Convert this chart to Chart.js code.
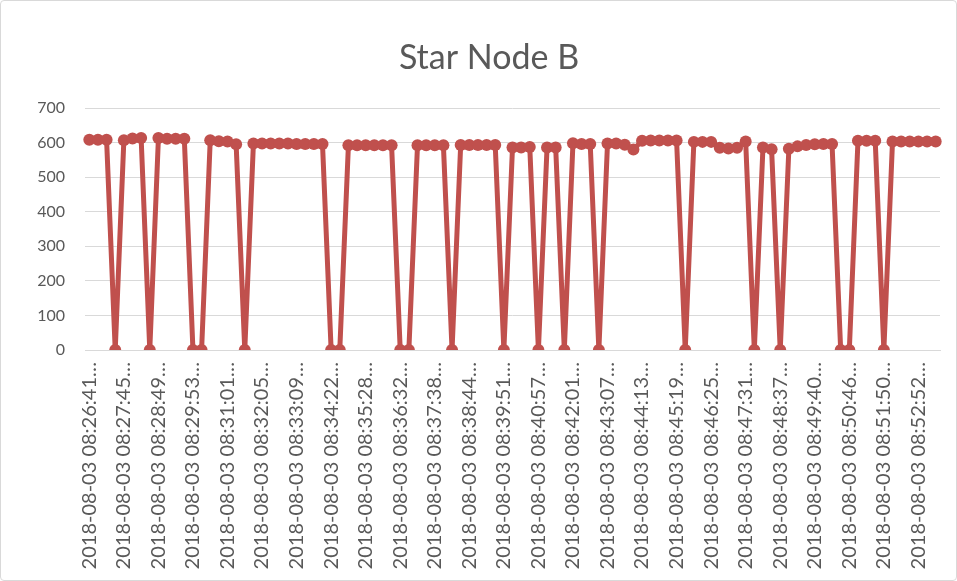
<!DOCTYPE html>
<html>
<head>
<meta charset="utf-8">
<script src="https://cdn.jsdelivr.net/npm/chart.js@4"></script>
<style>
  body { margin: 0; background: #fff; }
  .wrap { width: 957px; height: 581px; box-sizing: border-box; border: 1px solid #d9d9d9; border-radius: 4px; }
</style>
</head>
<body>
<div class="wrap"><canvas id="myChart"></canvas></div>
<script>
// TICK LABELS (one every 4 samples)
const tickLabels = [
  "2018-08-03 08:26:41", "2018-08-03 08:27:45", "2018-08-03 08:28:49",
  "2018-08-03 08:29:53", "2018-08-03 08:31:01", "2018-08-03 08:32:05",
  "2018-08-03 08:33:09", "2018-08-03 08:34:22", "2018-08-03 08:35:28",
  "2018-08-03 08:36:32", "2018-08-03 08:37:38", "2018-08-03 08:38:44",
  "2018-08-03 08:39:51", "2018-08-03 08:40:57", "2018-08-03 08:42:01",
  "2018-08-03 08:43:07", "2018-08-03 08:44:13", "2018-08-03 08:45:19",
  "2018-08-03 08:46:25", "2018-08-03 08:47:31", "2018-08-03 08:48:37",
  "2018-08-03 08:49:40", "2018-08-03 08:50:46", "2018-08-03 08:51:50",
  "2018-08-03 08:52:52",
];
const labelStep = 4;

// SERIES VALUES
const starNodeB = [
  608, 608, 608, 0, 607, 612, 613, 0, 613, 611,
  611, 611, 0, 0, 607, 604, 603, 595, 0, 597,
  597, 597, 597, 597, 596, 596, 596, 596, 0, 0,
  592, 592, 592, 592, 592, 592, 0, 0, 592, 592,
  592, 592, 0, 593, 593, 593, 593, 593, 0, 586,
  586, 587, 0, 586, 586, 0, 598, 596, 596, 0,
  597, 597, 594, 580, 605, 606, 606, 606, 606, 0,
  602, 602, 602, 585, 583, 585, 603, 0, 586, 581,
  0, 582, 589, 593, 595, 596, 596, 0, 0, 605,
  605, 605, 0, 603, 603, 603, 603, 603, 603,
];

const yTicks = [0, 100, 200, 300, 400, 500, 600, 700];
const chartTitle = "Star Node B";

// category list: only every 4th sample carries a visible label
const categories = starNodeB.map((v, i) =>
  i % labelStep === 0 ? tickLabels[i / labelStep] + "\u2026" : ""
);

const red = "#C0504D";
const textGray = "#595959";
const gridGray = "#d9d9d9";
const font = "Lato, 'Open Sans', sans-serif";

// TITLE, drawn a little right of centre like the original
const titlePlugin = {
  id: "titleText",
  afterDraw(chart) {
    const c = chart.ctx;
    c.save();
    c.fillStyle = textGray;
    c.font = "34px " + font;
    c.textAlign = "center";
    c.textBaseline = "middle";
    c.fillText(chartTitle, 488, 57);
    c.restore();
  },
};

const ctx = document.getElementById("myChart");
let myChart = new Chart(ctx, {
  type: "line",
  data: {
    labels: categories,
    datasets: [
      {
        label: chartTitle,
        data: starNodeB,
        borderColor: red,
        backgroundColor: red,
        borderWidth: 5,
        pointRadius: 6,
        pointBackgroundColor: red,
        pointBorderColor: red,
        pointBorderWidth: 0,
        tension: 0,
      },
    ],
  },
  options: {
    responsive: true,
    maintainAspectRatio: false,
    animation: false,
    layout: { padding: { left: 0, right: 0, top: 107, bottom: 0 } },
    plugins: {
      legend: { display: false },
      tooltip: { enabled: false },
      title: { display: false },
    },
    scales: {
      x: {
        offset: true,
        grid: { display: false, drawTicks: false },
        border: { display: true, color: gridGray, width: 1 },
        ticks: {
          autoSkip: false,
          maxRotation: 90,
          minRotation: 90,
          padding: 12,
          color: textGray,
          font: { family: font, size: 20 },
        },
        afterFit: (scale) => {
          scale.height = 230;
          scale.paddingRight = 16;
        },
      },
      y: {
        min: 0,
        max: 700,
        afterBuildTicks: (scale) => {
          scale.ticks = yTicks.map((v) => ({ value: v }));
        },
        grid: { color: gridGray, drawTicks: false },
        border: { display: false },
        ticks: {
          padding: 20,
          color: textGray,
          font: { family: font, size: 16 },
        },
        afterFit: (scale) => {
          scale.width = 84;
        },
      },
    },
  },
  plugins: [titlePlugin],
});
</script>
</body>
</html>
